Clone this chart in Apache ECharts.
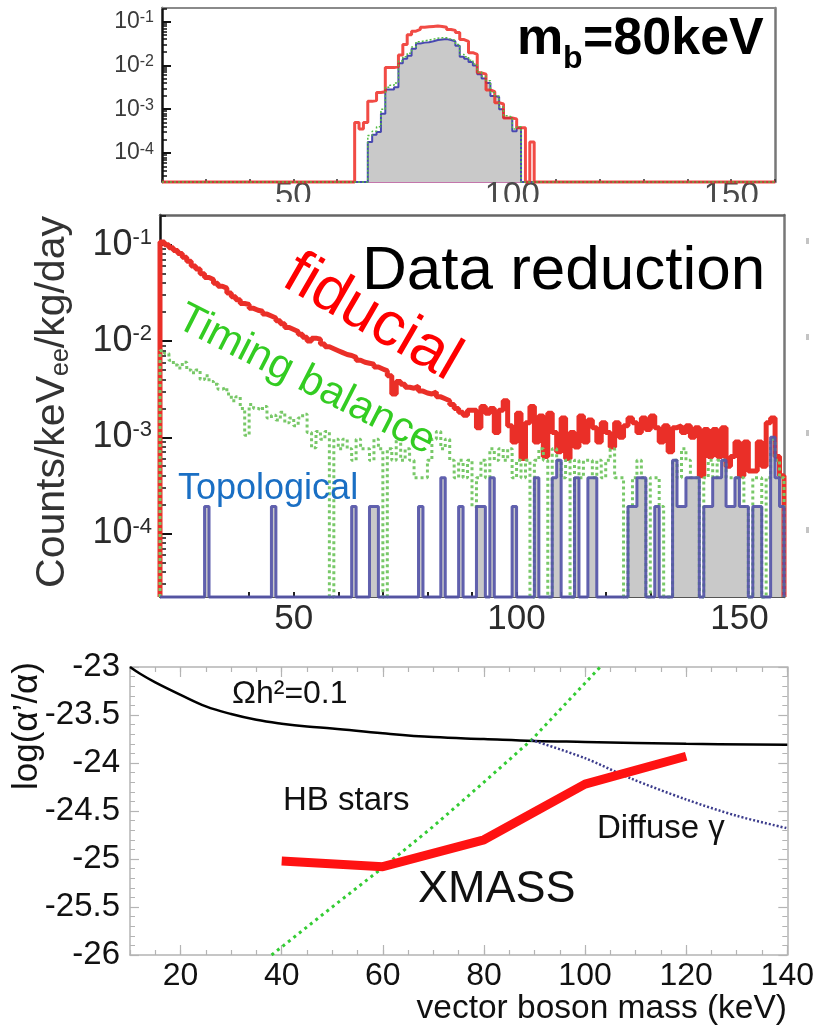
<!DOCTYPE html>
<html>
<head>
<meta charset="utf-8">
<script src="https://cdn.jsdelivr.net/npm/echarts@6.0.0/dist/echarts.min.js"></script>
<style>
html,body{margin:0;padding:0;background:#fff;}
#c{width:817px;height:1026px;}
</style>
</head>
<body>
<div id="c"></div>
<script>
const FONT = '"Liberation Sans", Arial, Helvetica, sans-serif';

// ---------- top panel: simulated 80 keV signal, log10(counts/keV/kg/day), 1 keV bins ----------
const sigRedStart = 64;
const sigRedLog = [
  -3.30,-3.45,-3.30,-2.82,-2.80,-2.62,-2.60,-2.05,-2.05,-2.03,   // 64-73
  -1.76,-1.52,-1.30,-1.22,-1.18,-1.13,-1.12,-1.11,-1.10,-1.11,   // 74-83
  -1.13,-1.18,-1.20,-1.25,-1.41,-1.45,-1.71,-1.75,-2.17,-2.20,   // 84-93
  -2.56,-2.60,-2.85,-2.88,-3.20,-3.20,-3.22,-3.42,-3.42,null,    // 94-103
  -3.75                                                          // 104
];
const sigCutStart = 67;
const sigTimingLog = [
  -3.60,-3.50,-3.40,-3.00,-2.50,-2.45,-2.40,-1.90,-1.80,-1.72,   // 67-76
  -1.58,-1.46,-1.44,-1.42,-1.40,-1.38,-1.37,-1.37,-1.40,-1.43,   // 77-86
  -1.52,-1.75,-1.80,-1.88,-1.97,-2.15,-2.25,-2.35,-2.62,-2.70,   // 87-96
  -2.95,-3.15,-3.18,-3.45,-3.40                                  // 97-101
];
const sigTopoLog = [
  -3.75,-3.58,-3.52,-3.10,-2.55,-2.55,-2.50,-1.95,-1.85,-1.78,   // 67-76
  -1.62,-1.50,-1.48,-1.47,-1.45,-1.42,-1.41,-1.40,-1.42,-1.45,   // 77-86
  -1.55,-1.80,-1.85,-1.92,-2.00,-2.20,-2.30,-2.40,-2.70,-2.72,   // 87-96
  -3.00,-3.20,-3.20,-3.50,-3.42                                  // 97-101
];

// ---------- middle panel: data after each reduction step, 20-160 keV, 1 keV bins ----------
const dataStart = 20;
const fiducialLog = [
  -0.97,-1.00,-1.03,-1.06,-1.09,-1.13,-1.17,-1.22,-1.25,-1.30,   // 20
  -1.34,-1.36,-1.40,-1.43,-1.45,-1.50,-1.54,-1.57,-1.61,-1.62,   // 30
  -1.66,-1.68,-1.69,-1.72,-1.74,-1.76,-1.79,-1.82,-1.86,-1.88,   // 40
  -1.90,-1.93,-1.96,-2.00,-1.97,-1.98,-2.03,-2.06,-2.08,-2.10,   // 50
  -2.12,-2.14,-2.15,-2.17,-2.20,-2.22,-2.23,-2.24,-2.27,-2.29,   // 60
  -2.31,-2.36,-2.55,-2.42,-2.45,-2.48,-2.49,-2.47,-2.52,-2.54,   // 70
  -2.55,-2.53,-2.58,-2.60,-2.62,-2.66,-2.70,-2.74,-2.77,-2.72,   // 80
  -2.72,-2.90,-2.68,-2.75,-2.70,-2.95,-2.72,-2.62,-2.88,-3.05,   // 90
  -2.75,-3.22,-2.85,-2.68,-3.05,-2.78,-3.20,-2.75,-2.95,-3.15,   // 100
  -2.80,-3.22,-2.95,-3.10,-2.78,-3.05,-2.82,-2.90,-3.05,-2.85,   // 110
  -2.95,-3.10,-2.85,-3.00,-2.88,-2.80,-2.85,-2.95,-2.80,-2.92,   // 120
  -2.78,-2.90,-3.05,-2.88,-3.15,-2.90,-2.88,-2.95,-2.88,-3.00,   // 130
  -2.90,-3.40,-2.92,-3.20,-2.92,-3.20,-2.90,-3.30,-3.20,-3.05,   // 140
  -3.40,-3.05,-3.35,-3.35,-3.05,-3.30,-2.85,-2.80,-3.20,-3.40    // 150
];
const timingLog = [
  -2.10,-2.13,-2.20,-2.25,-2.28,-2.22,-2.30,-2.33,-2.30,-2.40,   // 20
  -2.36,-2.42,-2.45,-2.50,-2.48,-2.55,-2.62,-2.58,-2.70,-2.98,   // 30
  -2.66,-2.70,-2.72,-2.68,-2.80,-2.77,-2.82,-2.74,-2.85,-2.80,   // 40
  -2.88,-2.80,-2.76,-2.95,-3.11,-2.94,-3.02,-2.94,null,-3.02,    // 50
  -3.12,-3.02,-3.12,-3.24,-3.02,-3.12,-3.12,-3.24,-3.02,-3.12,   // 60
  null,-3.12,-3.24,-3.02,-3.24,-3.12,-3.24,-3.42,-3.42,-3.42,    // 70
  -3.24,-3.02,-2.94,-3.12,-3.02,-3.24,-3.42,-3.24,-3.42,-3.24,   // 80
  -3.72,-3.42,-3.24,-3.42,-3.12,-3.24,-3.12,-3.24,-3.12,-3.42,   // 90
  -3.24,-3.42,-3.24,null,-3.24,-3.12,-3.24,null,-3.12,-3.24,     // 100
  -3.42,-3.24,null,-3.24,-3.42,-3.24,-3.24,-3.42,-3.24,-3.42,    // 110
  -3.24,-3.12,-3.42,-3.42,null,-3.72,-3.42,-3.24,-3.42,null,     // 120
  -3.42,-3.42,-3.72,null,null,-3.24,-3.42,-3.12,-3.24,-3.42,     // 130
  -3.42,null,-3.42,-3.24,-3.42,-3.24,-3.24,-3.42,-3.42,-3.42,    // 140
  -3.42,-3.72,null,-3.42,-3.42,null,-3.42,-3.02,-3.24,-3.42      // 150
];
// topological cut: only the non-empty bins (lower bin edge in keV, log10 rate)
const topoBins = [30,45,63,67,68,78,83,87,91,92,94,99,104,108,109,113,116,117,
  125,126,127,128,131,135,136,137,138,139,140,142,143,144,145,146,147,148,149,150,151,153,154,157,158,159];
const topoLog = [-3.72,-3.72,-3.72,-3.72,-3.72,-3.72,-3.42,-3.72,-3.72,-3.72,-3.42,-3.72,-3.42,-3.42,-3.24,-3.42,-3.42,-3.42,
  -3.72,-3.72,-3.42,-3.42,-3.72,-3.24,-3.72,-3.72,-3.42,-3.42,-3.42,-3.72,-3.72,-3.42,-3.42,-3.24,-3.72,-3.72,-3.42,-3.72,-3.72,-3.72,-3.72,-3.00,-3.42,-3.72];

// ---------- bottom panel: limits on log(alpha'/alpha) vs vector boson mass ----------
const omegaMass = [10,12,15,20,25,30,35,40,45,50,60,70,80,90,100,120,140];
const omegaLog  = [-23.0,-23.07,-23.16,-23.29,-23.41,-23.49,-23.55,-23.59,-23.62,-23.64,-23.69,-23.73,-23.75,-23.77,-23.78,-23.80,-23.81];
const hbMass = [38,50,60,70,80,89.4,103];
const hbLog  = [-26.0,-25.5,-25.09,-24.66,-24.2,-23.76,-23.0];
const diffuseMass = [89.4,100,109,120,130,140];
const diffuseLog  = [-23.76,-23.95,-24.16,-24.38,-24.55,-24.68];
const xmassMass = [40,60,80,100,120];
const xmassLog  = [-25.02,-25.08,-24.8,-24.22,-23.93];

// ---------- helpers ----------
const LOG_MIN = -4.66, LOG_MAX = -0.69;
const E_MIN = 20, E_MAX = 160;

// outline of a 1-keV-binned histogram; empty bins sit on the floor
function histPath(x0, logs, floor) {
  const pts = [[E_MIN, floor], [x0, floor]];
  logs.forEach((v, i) => {
    const y = v == null ? floor : v;
    pts.push([x0 + i, y], [x0 + i + 1, y]);
  });
  const xe = x0 + logs.length;
  pts.push([xe, floor], [E_MAX, floor]);
  return pts;
}
function sparseToDense(bins, logs) {
  const arr = new Array(E_MAX - E_MIN).fill(null);
  bins.forEach((b, i) => { arr[b - E_MIN] = logs[i]; });
  return arr;
}
function minorLogTicks(lo, hi) {
  const out = [];
  for (let n = -6; n <= 0; n++) for (let k = 2; k <= 9; k++) {
    const v = n + Math.log10(k);
    if (v > lo && v < hi) out.push(v);
  }
  return out;
}
const pair = (xs, ys) => xs.map((x, i) => [x, ys[i]]);

const decades = [-4, -3, -2, -1];
const minorDecades = minorLogTicks(LOG_MIN, LOG_MAX);

function logAxis(grid, fs, sfs, tickLen, minorLen, color) {
  return [
    { gridIndex: grid, type: 'value', min: LOG_MIN, max: LOG_MAX, position: 'left',
      axisLine: { show: true, onZero: false, lineStyle: { color: '#111', width: 2.5 } },
      axisTick: { show: true, inside: true, customValues: decades, length: tickLen, lineStyle: { color: '#111', width: 2 } },
      axisLabel: { show: true, customValues: decades, margin: 8, fontSize: fs, fontFamily: FONT, color: color,
        formatter: v => '{b|10}{s|' + Math.round(v) + '}',
        rich: { b: { fontSize: fs, fontFamily: FONT, color: color },
                s: { fontSize: sfs, fontFamily: FONT, color: color, verticalAlign: 'top' } } },
      splitLine: { show: false } },
    { gridIndex: grid, type: 'value', min: LOG_MIN, max: LOG_MAX, position: 'left',
      axisLine: { show: false, onZero: false },
      axisTick: { show: true, inside: true, customValues: minorDecades, length: minorLen, lineStyle: { color: '#111', width: 1.5 } },
      axisLabel: { show: false }, splitLine: { show: false } },
    { gridIndex: grid, type: 'value', min: LOG_MIN, max: LOG_MAX, position: 'right',
      axisLine: { show: true, onZero: false, lineStyle: { color: '#777', width: 2.5 } },
      axisTick: { show: false }, axisLabel: { show: false }, splitLine: { show: false } }
  ];
}

const massTicks = [20, 40, 60, 80, 100, 120, 140];
const frameGrey = '#b4b4b4';

const xAxis = [
  // 0,1: top panel
  { gridIndex: 0, type: 'value', min: E_MIN, max: E_MAX, interval: 10,
    axisLine: { show: true, onZero: false, lineStyle: { color: '#b04a90', width: 1.5 } },
    axisTick: { show: true, inside: true, length: 3, lineStyle: { color: '#333', width: 1.5 } },
    axisLabel: { customValues: [50, 100, 150], margin: -3, fontSize: 33, fontFamily: FONT, color: '#4a4a4a' },
    splitLine: { show: false } },
  { gridIndex: 0, type: 'value', min: E_MIN, max: E_MAX, position: 'top',
    axisLine: { show: true, onZero: false, lineStyle: { color: '#8a8a8a', width: 2 } },
    axisTick: { show: false }, axisLabel: { show: false }, splitLine: { show: false } },
  // 2,3: middle panel
  { gridIndex: 1, type: 'value', min: E_MIN, max: E_MAX, interval: 10,
    axisLine: { show: true, onZero: false, lineStyle: { color: '#555', width: 2 } },
    axisTick: { show: true, inside: true, length: 5, lineStyle: { color: '#222', width: 2 } },
    axisLabel: { customValues: [50, 100, 150], margin: 5, fontSize: 35, fontFamily: FONT, color: '#2b2b2b' },
    splitLine: { show: false } },
  { gridIndex: 1, type: 'value', min: E_MIN, max: E_MAX, position: 'top',
    axisLine: { show: true, onZero: false, lineStyle: { color: '#666', width: 2.5 } },
    axisTick: { show: false }, axisLabel: { show: false }, splitLine: { show: false } },
  // 4-7: bottom panel
  { gridIndex: 2, type: 'value', min: 10, max: 140, position: 'bottom',
    axisLine: { show: true, onZero: false, lineStyle: { color: frameGrey, width: 1.5 } },
    axisTick: { show: true, inside: true, customValues: massTicks, length: 10, lineStyle: { color: frameGrey, width: 1.2 } },
    axisLabel: { customValues: massTicks, margin: 5, fontSize: 32, fontFamily: FONT, color: '#111' },
    splitLine: { show: false } },
  { gridIndex: 2, type: 'value', min: 10, max: 140, interval: 5, position: 'bottom',
    axisLine: { show: false, onZero: false },
    axisTick: { show: true, inside: true, length: 5, lineStyle: { color: frameGrey, width: 1.2 } },
    axisLabel: { show: false }, splitLine: { show: false } },
  { gridIndex: 2, type: 'value', min: 10, max: 140, position: 'top',
    axisLine: { show: true, onZero: false, lineStyle: { color: frameGrey, width: 1.5 } },
    axisTick: { show: true, inside: true, customValues: massTicks, length: 10, lineStyle: { color: frameGrey, width: 1.2 } },
    axisLabel: { show: false }, splitLine: { show: false } },
  { gridIndex: 2, type: 'value', min: 10, max: 140, interval: 5, position: 'top',
    axisLine: { show: false, onZero: false },
    axisTick: { show: true, inside: true, length: 5, lineStyle: { color: frameGrey, width: 1.2 } },
    axisLabel: { show: false }, splitLine: { show: false } }
];

const couplingAxis = (pos, labels) => ({
  gridIndex: 2, type: 'value', min: -26, max: -23, interval: 0.5, position: pos,
  axisLine: { show: true, onZero: false, lineStyle: { color: frameGrey, width: 1.5 } },
  axisTick: { show: true, inside: true, length: 9, lineStyle: { color: frameGrey, width: 1.2 } },
  minorTick: { show: true, splitNumber: 5, length: 5, lineStyle: { color: frameGrey, width: 1 } },
  axisLabel: { show: labels, margin: 10, fontSize: 33, fontFamily: FONT, color: '#111' },
  splitLine: { show: false }
});

const yAxis = [
  ...logAxis(0, 23, 16, 9, 5, '#3a3a3a'),   // 0,1,2
  ...logAxis(1, 36, 22, 12, 6, '#2b2b2b'),  // 3,4,5
  couplingAxis('left', true),               // 6
  couplingAxis('right', false)              // 7
];

const lineBase = { type: 'line', symbol: 'none', showSymbol: false, silent: true, animation: false };
const FLOOR = LOG_MIN;
const topoDense = sparseToDense(topoBins, topoLog);

const series = [
  // top panel
  Object.assign({}, lineBase, { xAxisIndex: 0, yAxisIndex: 0, clip: false, z: 1,
    data: histPath(sigCutStart, sigTopoLog, FLOOR),
    lineStyle: { width: 0 }, areaStyle: { color: '#c9c9c9', opacity: 1, origin: 'start' } }),
  Object.assign({}, lineBase, { xAxisIndex: 0, yAxisIndex: 0, clip: false, z: 3,
    data: histPath(sigRedStart, sigRedLog, FLOOR),
    lineStyle: { color: '#ee2b25', width: 3, opacity: 0.85 } }),
  Object.assign({}, lineBase, { xAxisIndex: 0, yAxisIndex: 0, clip: false, z: 4,
    data: histPath(sigCutStart, sigTimingLog, FLOOR),
    lineStyle: { color: '#55bb44', width: 1.5, type: [2, 2] } }),
  Object.assign({}, lineBase, { xAxisIndex: 0, yAxisIndex: 0, clip: false, z: 2,
    data: histPath(sigCutStart, sigTopoLog, FLOOR),
    lineStyle: { color: '#4848b0', width: 2 } }),

  // middle panel
  Object.assign({}, lineBase, { xAxisIndex: 2, yAxisIndex: 3, clip: false, z: 1,
    data: histPath(dataStart, topoDense, FLOOR),
    lineStyle: { width: 0 }, areaStyle: { color: '#c9c9c9', opacity: 1, origin: 'start' } }),
  Object.assign({}, lineBase, { xAxisIndex: 2, yAxisIndex: 3, clip: false, z: 2,
    data: histPath(dataStart, fiducialLog, FLOOR),
    lineStyle: { color: '#ea2f28', width: 5 } }),
  Object.assign({}, lineBase, { xAxisIndex: 2, yAxisIndex: 3, clip: false, z: 3,
    data: histPath(dataStart, timingLog, FLOOR),
    lineStyle: { color: '#78c868', width: 3, type: [3, 3] } }),
  Object.assign({}, lineBase, { xAxisIndex: 2, yAxisIndex: 3, clip: false, z: 4,
    data: histPath(dataStart, topoDense, FLOOR),
    lineStyle: { color: '#5555a8', width: 3, opacity: 0.92 } }),

  // bottom panel
  Object.assign({}, lineBase, { xAxisIndex: 4, yAxisIndex: 6, z: 2, smooth: 0.4,
    data: pair(omegaMass, omegaLog), lineStyle: { color: '#000', width: 2.5 } }),
  Object.assign({}, lineBase, { xAxisIndex: 4, yAxisIndex: 6, z: 3,
    data: pair(hbMass, hbLog), lineStyle: { color: '#33cc33', width: 3, type: [3, 4] } }),
  Object.assign({}, lineBase, { xAxisIndex: 4, yAxisIndex: 6, z: 3, smooth: 0.3,
    data: pair(diffuseMass, diffuseLog), lineStyle: { color: '#3c3c8c', width: 2.5, type: [2, 2] } }),
  Object.assign({}, lineBase, { xAxisIndex: 4, yAxisIndex: 6, z: 4,
    data: pair(xmassMass, xmassLog), lineStyle: { color: '#ff1212', width: 9, cap: 'butt', join: 'round' } })
];

const txt = (x, y, text, size, fill, extra) => Object.assign({
  type: 'text', x: x, y: y, silent: true, z: 60,
  style: Object.assign({ text: text, fill: fill, fontSize: size, fontFamily: FONT,
    align: 'left', verticalAlign: 'middle' }, extra && extra.style || {})
}, extra && extra.el || {});

const deg = Math.PI / 180;
const graphic = [
  // trims the lower half of the top panel's energy labels
  { type: 'rect', z: 50, silent: true, shape: { x: 150, y: 202, width: 660, height: 11 }, style: { fill: '#fff' } },

  // top panel title
  txt(517, 40, 'm', 52, '#000', { style: { fontWeight: 'bold' } }),
  txt(563, 59, 'b', 32, '#000', { style: { fontWeight: 'bold' } }),
  txt(583, 40, '=80keV', 52, '#000', { style: { fontWeight: 'bold' } }),

  // middle panel annotations
  txt(362, 272, 'Data reduction', 62, '#000'),
  txt(372, 318, 'fiducial', 62, '#ff0000', { style: { align: 'center' }, el: { rotation: -30 * deg } }),
  txt(306, 380, 'Timing balance', 42, '#33cc22', { style: { align: 'center' }, el: { rotation: -27 * deg } }),
  txt(178, 489, 'Topological', 36, '#1a6fc4'),
  { type: 'text', x: 53, y: 402, rotation: 90 * deg, silent: true, z: 60,
    style: { text: '{a|Counts/keV}{e|ee}{a|/kg/day}', align: 'center', verticalAlign: 'middle',
      rich: { a: { fontSize: 41, fontFamily: FONT, fill: '#333' },
              e: { fontSize: 25, fontFamily: FONT, fill: '#333', verticalAlign: 'bottom' } } } },

  // bottom panel annotations
  txt(232, 694, 'Ωh²=0.1', 32, '#111'),
  txt(283, 801, 'HB stars', 33, '#111'),
  txt(597, 829, 'Diffuse γ', 33, '#111'),
  txt(418, 890, 'XMASS', 45, '#111'),
  txt(787, 1009, 'vector boson mass (keV)', 33.5, '#111', { style: { align: 'right' } }),
  txt(27, 726, 'log(α’/α)', 35, '#111', { style: { align: 'center' }, el: { rotation: 90 * deg } })
];
// faint marks along the right margin of the middle panel
[241, 337, 433, 530].forEach(y => graphic.push(
  { type: 'rect', z: 50, silent: true, shape: { x: 806, y: y - 3, width: 3, height: 6 }, style: { fill: '#c4c4c4' } }
));

const chart = echarts.init(document.getElementById('c'), null, { renderer: 'canvas' });
chart.setOption({
  animation: false,
  backgroundColor: '#fff',
  grid: [
    { left: 162, top: 8, width: 613, height: 174 },
    { left: 160, top: 215, width: 624, height: 382 },
    { left: 130, top: 667, width: 658, height: 288 }
  ],
  xAxis: xAxis,
  yAxis: yAxis,
  series: series,
  graphic: { elements: graphic }
});
</script>
</body>
</html>
